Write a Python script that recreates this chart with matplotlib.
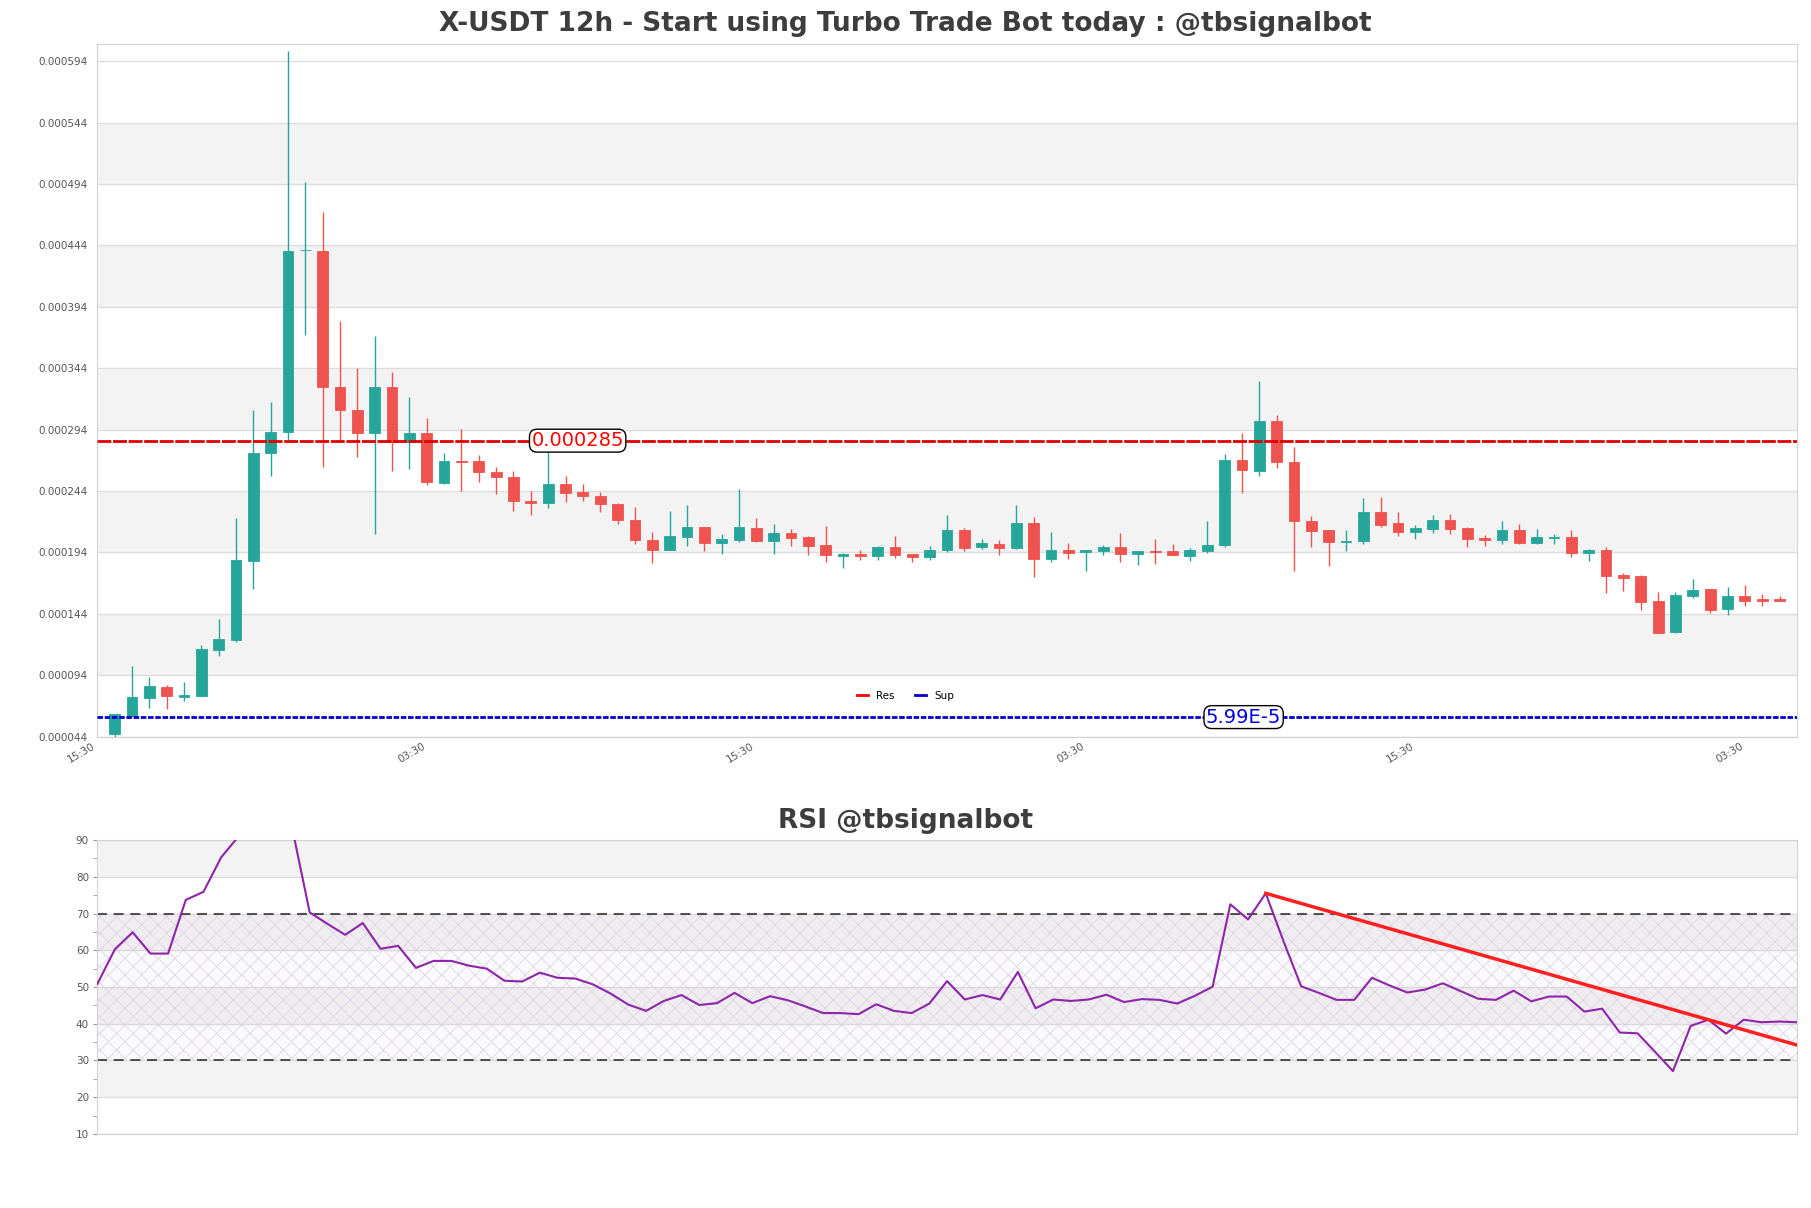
import numpy as np
import matplotlib
matplotlib.use('Agg')
import matplotlib.pyplot as plt
from matplotlib.lines import Line2D

# ---------- data (prices in 1e-6 USDT) ----------
opens = np.array([
    46.0, 61.0, 75.6, 84.2, 76.4, 77.2, 114.6, 122.7, 187.0, 274.8,
    292.4, 440.0, 439.8, 328.5, 310.3, 291.0, 329.0, 284.2, 291.3, 250.4,
    268.5, 268.5, 259.8, 255.4, 236.2, 234.0, 249.8, 242.8, 240.3, 233.8,
    220.8, 204.0, 195.9, 206.7, 214.3, 201.3, 203.8, 213.5, 203.2, 209.5,
    206.5, 199.7, 191.3, 192.6, 191.0, 198.1, 192.6, 190.2, 195.6, 211.9,
    198.3, 200.5, 197.5, 217.6, 188.6, 195.6, 194.5, 195.1, 198.3, 192.6,
    194.8, 194.8, 191.0, 195.1, 200.0, 269.6, 260.1, 301.3, 267.4, 219.5,
    211.9, 202.4, 203.0, 227.3, 217.6, 210.3, 212.7, 220.0, 213.5, 205.7,
    203.8, 211.9, 201.3, 206.0, 206.2, 193.5, 195.6, 175.6, 174.8, 154.2,
    129.2, 158.3, 164.0, 147.9, 158.3, 155.8, 156.0]) * 1e-6
highs = np.array([
    62.5, 101.3, 92.6, 85.9, 88.3, 118.9, 139.5, 221.9, 310.3, 316.8,
    602.4, 495.9, 471.5, 382.1, 344.0, 369.9, 340.6, 320.8, 303.8, 275.3,
    294.5, 273.7, 263.9, 259.9, 244.4, 279.0, 256.3, 249.8, 243.3, 234.6,
    230.6, 210.3, 228.1, 233.0, 215.1, 208.6, 245.5, 221.9, 216.8, 213.0,
    207.5, 215.4, 193.7, 196.2, 199.2, 207.3, 192.6, 198.9, 224.1, 213.8,
    204.8, 203.8, 233.0, 222.7, 210.3, 201.3, 196.2, 200.2, 209.5, 195.3,
    204.6, 200.5, 197.8, 219.2, 274.5, 291.0, 333.8, 306.2, 279.9, 223.3,
    211.9, 211.9, 238.2, 239.5, 227.3, 216.0, 224.1, 224.9, 214.3, 208.1,
    219.2, 216.8, 212.7, 208.9, 211.9, 196.7, 198.1, 177.2, 175.3, 161.8,
    161.8, 172.1, 164.0, 165.8, 167.2, 160.4, 158.5]) * 1e-6
lows = np.array([
    43.9, 61.0, 67.4, 66.4, 73.1, 77.2, 109.4, 121.1, 164.2, 256.1,
    284.0, 371.0, 263.4, 283.7, 271.5, 208.9, 260.1, 261.7, 249.0, 249.3,
    243.9, 251.2, 241.4, 227.6, 224.4, 230.0, 234.9, 235.7, 226.8, 217.0,
    200.8, 185.3, 195.9, 199.2, 195.1, 193.0, 202.1, 202.1, 193.0, 199.2,
    191.8, 186.1, 181.3, 187.5, 187.5, 189.7, 186.1, 187.8, 194.0, 195.1,
    196.4, 191.8, 196.4, 173.9, 185.9, 188.6, 178.8, 191.8, 186.1, 183.7,
    184.5, 191.8, 187.0, 193.5, 198.3, 242.2, 256.1, 263.1, 178.8, 198.3,
    182.9, 194.8, 200.8, 215.1, 207.3, 204.8, 209.7, 208.9, 198.3, 199.2,
    200.8, 200.8, 200.5, 200.5, 190.2, 187.0, 161.0, 162.6, 146.9, 128.7,
    128.2, 156.9, 144.7, 143.1, 150.4, 150.4, 154.4]) * 1e-6
closes = np.array([
    62.3, 76.1, 85.1, 77.2, 78.0, 115.1, 123.3, 187.5, 275.3, 292.4,
    439.8, 440.5, 328.5, 309.7, 291.0, 329.0, 283.7, 291.3, 251.2, 268.5,
    267.5, 259.3, 255.0, 235.7, 234.0, 249.8, 242.2, 239.8, 233.3, 220.3,
    204.0, 195.9, 207.0, 214.3, 201.6, 204.6, 214.3, 203.0, 209.5, 205.7,
    199.2, 192.1, 192.6, 191.0, 198.1, 191.8, 190.2, 196.2, 211.9, 197.5,
    201.3, 197.5, 217.6, 188.6, 195.6, 193.5, 195.6, 198.3, 192.6, 194.8,
    194.0, 191.8, 195.9, 200.0, 269.6, 260.9, 301.3, 267.4, 219.5, 211.3,
    202.1, 203.0, 227.3, 216.0, 210.3, 213.5, 220.0, 212.7, 204.6, 204.0,
    211.9, 201.3, 206.2, 206.2, 193.5, 195.6, 174.8, 173.2, 153.6, 128.7,
    159.1, 163.1, 147.1, 158.3, 154.4, 154.2, 154.4]) * 1e-6

rsi = [
    50.8, 60.3, 64.9, 59.1, 59.1, 73.7, 75.9, 85.3, 91.1, 93.5,
    96.5, 93.5, 70.3, 67.2, 64.2, 67.4, 60.4, 61.2, 55.2, 57.1,
    57.1, 55.8, 55.0, 51.7, 51.5, 53.9, 52.5, 52.3, 50.7, 48.2,
    45.2, 43.5, 46.2, 47.8, 45.1, 45.6, 48.4, 45.6, 47.5, 46.4,
    44.7, 42.9, 42.9, 42.6, 45.3, 43.5, 42.9, 45.5, 51.6, 46.6,
    47.8, 46.6, 54.1, 44.2, 46.6, 46.2, 46.6, 47.9, 45.9, 46.7,
    46.5, 45.5, 47.6, 50.1, 72.5, 68.4, 75.5, 62.5, 50.2, 48.4,
    46.5, 46.5, 52.5, 50.4, 48.5, 49.3, 51.0, 48.9, 46.8, 46.5,
    49.0, 46.1, 47.4, 47.4, 43.3, 44.1, 37.6, 37.4, 32.3, 27.1,
    39.4, 41.1, 37.3, 41.1, 40.4, 40.6, 40.4]
trend_pivots = [66, 91]      # rsi peaks the trend line goes through

res_level = 0.000285
sup_level = 0.0000599
res_label = '0.000285'
sup_label = '5.99E-5'
time_labels = ['15:30', '03:30', '15:30', '03:30', '15:30', '03:30']

GREEN = '#26a69a'
RED = '#ef5350'
BAND = '#f3f3f3'
GRID = '#dddddd'
SPINE = '#d3d3d3'
TXT = '#555555'
TITLE = '#3d3d3d'

plt.rcParams['hatch.linewidth'] = 0.5

AX_L, AX_W = 0.0537, 0.9385
FIG_MID = (0.5 - AX_L) / AX_W		# figure centre in axes fraction (titles, legend)


def stripe(ax, ticks):		# alternating grey bands between tick pairs
	for lo, hi in zip(ticks[1::2], ticks[2::2]):
		ax.axhspan(lo, hi, color=BAND, lw=0, zorder=0)


def style(ax):
	for s in ax.spines.values():
		s.set_color(SPINE)
	ax.grid(axis='y', color=GRID, lw=1, zorder=0.5)
	ax.set_axisbelow(True)


fig = plt.figure(figsize=(18.11, 12.08), dpi=100)
ax = fig.add_axes([AX_L, 0.3899, AX_W, 0.5737])
ax2 = fig.add_axes([AX_L, 0.0613, AX_W, 0.2433])

# ---------- candles ----------
x = np.arange(len(opens))
cols = np.where(closes >= opens, GREEN, RED)
ax.vlines(x, lows, highs, colors=cols, lw=1, zorder=2)
ax.bar(x, closes - opens, bottom=opens, width=0.62, color=cols,
       edgecolor=cols, lw=0.6, zorder=3)

price_ticks = np.arange(44, 600, 50) * 1e-6
stripe(ax, price_ticks)
style(ax)
ax.set_yticks(price_ticks)
ax.set_yticklabels([f'{t:.6f}' for t in price_ticks])
ax.set_ylim(0.0000437, 0.000608)
ax.set_xlim(-1, len(opens))
ax.set_xticks(np.arange(-1, len(opens), 19))
ax.set_xticklabels(time_labels, rotation=30, ha='right')
ax.tick_params(axis='both', labelsize=7.5, labelcolor=TXT, length=0, pad=7)
ax.tick_params(axis='x', pad=3)

# support / resistance
ax.axhline(res_level, color='#e00000', ls=(0, (5, 0.6)), lw=2, zorder=4)
ax.axhline(sup_level, color='#0000cc', ls=(0, (2, 0.6)), lw=2, zorder=4)
box = dict(boxstyle='round,pad=0.1,rounding_size=0.4', fc='white', ec='black', lw=1)
ax.text(26.7, res_level, res_label, color='red', fontsize=14, ha='center', va='center', zorder=6, bbox=box)
ax.text(65.1, sup_level, sup_label, color='#0000dd', fontsize=14, ha='center', va='center', zorder=6, bbox=box)
handles = [Line2D([], [], color='red', lw=2), Line2D([], [], color='#0000cc', lw=2)]
ax.legend(handles, ['Res', 'Sup'], loc='center', bbox_to_anchor=(FIG_MID, 0.0592), ncol=2,
          frameon=False, fontsize=7.5, handlelength=1, columnspacing=2)

ax.set_title('X-USDT 12h - Start using Turbo Trade Bot today : @tbsignalbot',
             fontsize=19, fontweight='bold', color=TITLE, pad=9, x=FIG_MID)

# ---------- RSI ----------
rx = np.arange(len(rsi))
rsi_ticks = np.arange(10, 91, 10)
stripe(ax2, rsi_ticks)
style(ax2)
ax2.axhspan(30, 70, facecolor=(0.55, 0.35, 0.65, 0.035), hatch='xx', edgecolor='#dccfe2', lw=0, zorder=0.6)
ax2.axhline(70, color='#333333', ls='--', lw=1.2, dashes=(6, 4), zorder=2)
ax2.axhline(30, color='#333333', ls='--', lw=1.2, dashes=(6, 4), zorder=2)
ax2.plot(rx, rsi, color='#8e24aa', lw=1.5, zorder=3)

coef = np.polyfit(trend_pivots, [rsi[p] for p in trend_pivots], 1)
tx = np.array([trend_pivots[0], len(rsi) - 1])
ax2.plot(tx, np.polyval(coef, tx), color='#ff2020', lw=2.5, zorder=4)

ax2.set_ylim(10, 90)
ax2.set_xlim(0, len(rsi) - 1)
ax2.set_yticks(rsi_ticks)
ax2.set_yticks(np.arange(15, 90, 10), minor=True)
ax2.set_xticks([])
ax2.tick_params(axis='y', which='both', labelsize=7.5, labelcolor=TXT, color='#999999', length=3, pad=3)
ax2.set_title('RSI @tbsignalbot', fontsize=19, fontweight='bold', color=TITLE, pad=9, x=FIG_MID)

plt.savefig('out.png', dpi=100)
